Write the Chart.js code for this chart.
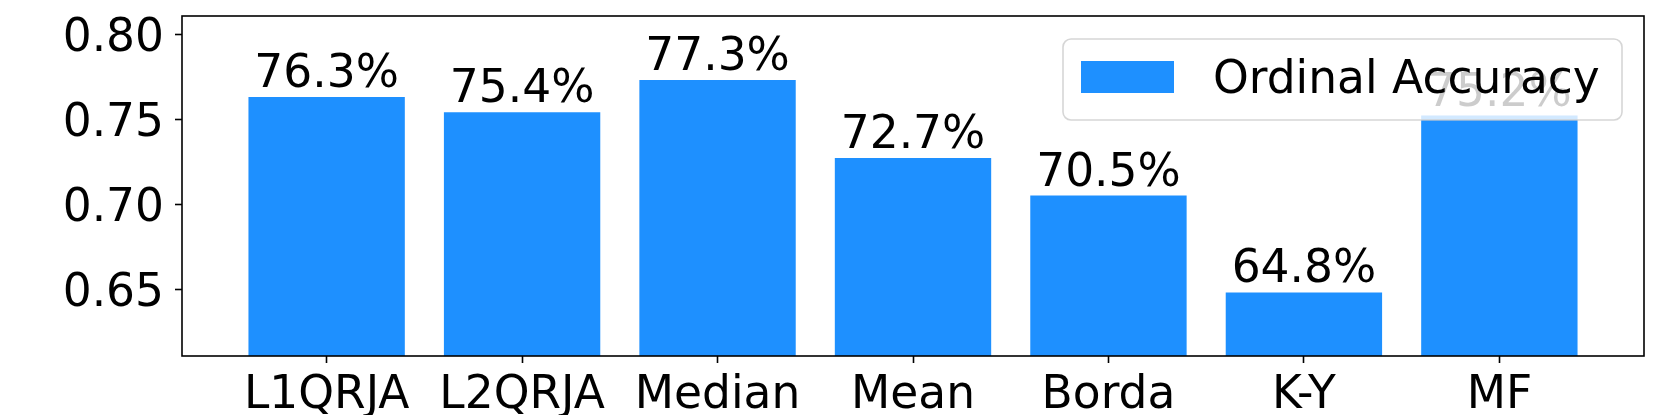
<!DOCTYPE html>
<html>
<head>
<meta charset="utf-8">
<script src="https://cdn.jsdelivr.net/npm/chart.js@4.4.1/dist/chart.umd.min.js"></script>
<style>
    body { margin: 0; background: #fff; }
    #wrap { width: 1661px; height: 415px; position: relative; }
</style>
</head>
<body>
<div id="wrap"><canvas id="chart_render"></canvas></div>
<script>
//// data

let categories = ['L1QRJA', 'L2QRJA', 'Median', 'Mean', 'Borda', 'K-Y', 'MF'];
let accuracyValues = [0.763, 0.754, 0.773, 0.727, 0.705, 0.648, 0.752];
let yTickValues = [0.65, 0.70, 0.75, 0.80];
let seriesName = 'Ordinal Accuracy';

//// look

let barColor = '#1E90FF';
let fontName = '"DejaVu Sans", "Liberation Sans", sans-serif';
let fontPx = 45.5;
let spineWidth = 1.6;

let chart_render = document.getElementById('chart_render');

/// bar points, x is the category index
let barPoints = accuracyValues.map(function(v, i) {
    return { x: i, y: v };
});

/// percent text above each bar, matplotlib style
let barLabelPlugin = {
    id: 'barLabels',
    afterDatasetsDraw: function(chart) {
        let ctx = chart.ctx;
        let area = chart.chartArea;

        // the frame, all four sides
        ctx.save();
        ctx.strokeStyle = '#000';
        ctx.lineWidth = spineWidth;
        ctx.strokeRect(area.left, area.top, area.right - area.left, area.bottom - area.top);
        ctx.restore();

        let meta = chart.getDatasetMeta(0);
        ctx.save();
        ctx.font = fontPx + 'px ' + fontName;
        ctx.fillStyle = '#000';
        ctx.textAlign = 'center';
        ctx.textBaseline = 'alphabetic';
        meta.data.forEach(function(bar, i) {
            let txt = (accuracyValues[i] * 100).toFixed(1) + '%';
            ctx.fillText(txt, bar.x, bar.y - 10);
        });
        ctx.restore();
    }
};

/// legend box sits inside the plot, top right, over the MF label
let legendPlugin = {
    id: 'boxLegend',
    afterDraw: function(chart) {
        let ctx = chart.ctx;
        let area = chart.chartArea;
        let right = area.right - 22;
        let left = right - 559;
        let top = area.top + 23;
        let bottom = top + 81;
        let r = 8;

        ctx.save();
        ctx.beginPath();
        ctx.moveTo(left + r, top);
        ctx.arcTo(right, top, right, bottom, r);
        ctx.arcTo(right, bottom, left, bottom, r);
        ctx.arcTo(left, bottom, left, top, r);
        ctx.arcTo(left, top, right, top, r);
        ctx.closePath();
        ctx.fillStyle = 'rgba(255,255,255,0.8)';
        ctx.fill();
        ctx.strokeStyle = 'rgba(204,204,204,0.8)';
        ctx.lineWidth = spineWidth;
        ctx.stroke();

        ctx.fillStyle = barColor;
        ctx.fillRect(left + 18, top + 22, 93, 32);

        ctx.font = fontPx + 'px ' + fontName;
        ctx.fillStyle = '#000';
        ctx.textAlign = 'left';
        ctx.textBaseline = 'alphabetic';
        ctx.fillText(seriesName, left + 150, top + 54);
        ctx.restore();
    }
};

function renderChart() {
    let ctx = chart_render.getContext('2d');
    new Chart(ctx, {
        type: 'bar',
        data: {
            datasets: [
                {
                    label: seriesName,
                    data: barPoints,
                    backgroundColor: barColor,
                    borderWidth: 0,
                    categoryPercentage: 0.8,
                    barPercentage: 1.0
                }
            ]
        },
        options: {
            responsive: true,
            maintainAspectRatio: false,
            animation: false,
            layout: {
                padding: { top: 16, right: 17, left: 0, bottom: 0 }
            },
            plugins: {
                legend: { display: false },
                tooltip: { enabled: false }
            },
            scales: {
                x: {
                    type: 'linear',
                    min: -0.74,
                    max: 6.74,
                    offset: false,
                    border: { display: false },
                    grid: {
                        offset: false,
                        drawOnChartArea: false,
                        drawTicks: true,
                        tickLength: 7,
                        tickWidth: spineWidth,
                        tickColor: '#000'
                    },
                    afterBuildTicks: function(axis) {
                        axis.ticks = categories.map(function(c, i) {
                            return { value: i };
                        });
                    },
                    afterFit: function(axis) {
                        axis.height = 59;
                        axis.paddingLeft = 0;
                        axis.paddingRight = 0;
                    },
                    ticks: {
                        autoSkip: false,
                        maxRotation: 0,
                        padding: 6,
                        color: '#000',
                        font: { family: fontName, size: fontPx },
                        callback: function(value) {
                            return categories[value];
                        }
                    }
                },
                y: {
                    type: 'linear',
                    min: 0.6106,
                    max: 0.8106,
                    border: { display: false },
                    grid: {
                        drawOnChartArea: false,
                        drawTicks: true,
                        tickLength: 7,
                        tickWidth: spineWidth,
                        tickColor: '#000'
                    },
                    afterBuildTicks: function(axis) {
                        axis.ticks = yTickValues.map(function(v) {
                            return { value: v };
                        });
                    },
                    afterFit: function(axis) {
                        axis.width = 182;
                        axis.paddingTop = 0;
                        axis.paddingBottom = 0;
                    },
                    ticks: {
                        padding: 11,
                        labelOffset: 5,
                        color: '#000',
                        font: { family: fontName, size: fontPx },
                        callback: function(value) {
                            return value.toFixed(2);
                        }
                    }
                }
            }
        },
        plugins: [barLabelPlugin, legendPlugin]
    });
}

renderChart();
</script>
</body>
</html>
